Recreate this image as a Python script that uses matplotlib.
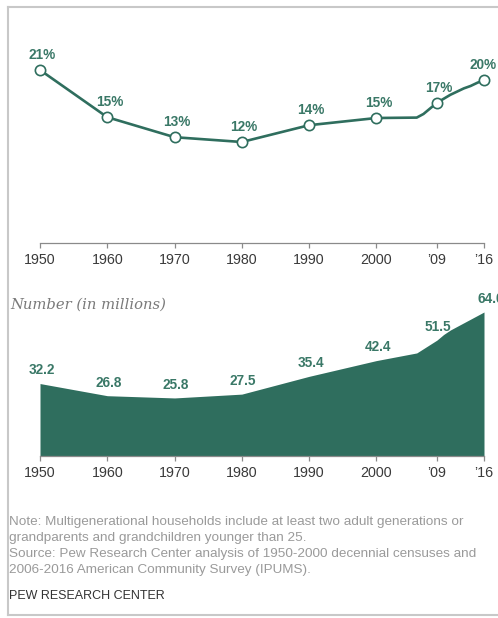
import matplotlib
matplotlib.use("Agg")
import matplotlib.pyplot as plt
from matplotlib.lines import Line2D

# share of population in multigenerational households (%)
years = [1950, 1960, 1970, 1980, 1990, 2000, 2006, 2007, 2008, 2009,
         2010, 2011, 2012, 2013, 2014, 2015, 2016]
pct = [21.0, 15.1, 12.6, 12.0, 14.1, 15.0, 15.05, 15.5, 16.2, 16.9,
       17.4, 17.9, 18.3, 18.7, 19.0, 19.4, 19.75]
# number of people (millions)
num = [32.2, 26.8, 25.8, 27.5, 35.4, 42.4, 45.8, 47.7, 49.6, 51.5,
       54.0, 56.0, 57.6, 59.2, 60.8, 62.4, 64.0]

mark_years = [1950, 1960, 1970, 1980, 1990, 2000, 2009, 2016]
pct_labels = ['21%', '15%', '13%', '12%', '14%', '15%', '17%', '20%']
num_labels = ['32.2', '26.8', '25.8', '27.5', '35.4', '42.4', '51.5', '64.0']
tick_labels = ['1950', '1960', '1970', '1980', '1990', '2000', '\u201909', '\u201916']

note_lines = [
    "Note: Multigenerational households include at least two adult generations or",
    "grandparents and grandchildren younger than 25.",
    "Source: Pew Research Center analysis of 1950-2000 decennial censuses and",
    "2006-2016 American Community Survey (IPUMS).",
]

green = '#2f6e5e'
label_green = '#3a7867'
W, H = 498, 618

plt.rcParams['font.family'] = ['Liberation Sans', 'DejaVu Sans']

fig = plt.figure(figsize=(W / 100, H / 100), dpi=100)


def fx(px):
    return px / W


def fy(py):
    return 1 - py / H


def style_axis(ax):
    for s in ['top', 'right', 'left']:
        ax.spines[s].set_visible(False)
    ax.spines['bottom'].set_color('#8a8a8a')
    ax.spines['bottom'].set_linewidth(0.9)
    ax.set_xlim(1950, 2016)
    ax.set_xticks(mark_years)
    ax.set_xticklabels(tick_labels)
    ax.tick_params(axis='x', direction='out', length=3.6, width=0.9,
                   color='#8a8a8a', pad=3.5, labelsize=10.3, labelcolor='#3a3a3a')
    ax.set_yticks([])
    ax.patch.set_alpha(0)


# top: percent line
ax1 = fig.add_axes([fx(40), fy(243), fx(444), 200 / H])
style_axis(ax1)
ax1.set_ylim(-0.625, 24.375)
ax1.plot(years, pct, color=green, lw=1.9, clip_on=False, zorder=2)
mark_pct = [pct[years.index(y)] for y in mark_years]
ax1.plot(mark_years, mark_pct, 'o', ms=7.4, mfc='white', mec=green, mew=1.2,
         clip_on=False, zorder=3)
for i, (x, v, t) in enumerate(zip(mark_years, mark_pct, pct_labels)):
    dx = -0.5 if i == len(mark_years) - 1 else 1.5
    ax1.annotate(t, (x, v), xytext=(dx, 10.8), textcoords='offset points',
                 ha='center', va='center', fontsize=9.8, fontweight='bold',
                 color=label_green, annotation_clip=False)

# bottom: number area
ax2 = fig.add_axes([fx(40), fy(456), fx(444), 156 / H])
style_axis(ax2)
ax2.set_ylim(0, 69.33)
ax2.fill_between(years, 0, num, color=green, lw=0, zorder=2)
mark_num = [num[years.index(y)] for y in mark_years]
for i, (x, v, t) in enumerate(zip(mark_years, mark_num, num_labels)):
    dx = 4.5 if i == len(mark_years) - 1 else 1.0
    ax2.annotate(t, (x, v), xytext=(dx, 9.5), textcoords='offset points',
                 ha='center', va='center', fontsize=9.8, fontweight='bold',
                 color=label_green, annotation_clip=False)

fig.text(fx(10), fy(305), 'Number (in millions)', ha='left', va='center',
         family='DejaVu Serif', style='italic', fontsize=10.6, color='#7a7a7a')

# notes
for i, line in enumerate(note_lines):
    fig.text(fx(9), fy(522 + i * 16), line, ha='left', va='center',
             fontsize=9.7, color='#9a9a9a')
fig.text(fx(9), fy(596), 'PEW RESEARCH CENTER', ha='left', va='center',
         fontsize=9, color='#333333')

# frame (left, top, bottom)
border = '#c8c8c8'
fig.add_artist(Line2D([fx(8), fx(8)], [fy(7), fy(615)], color=border, lw=1.5))
fig.add_artist(Line2D([fx(8), 1], [fy(7), fy(7)], color=border, lw=1.5))
fig.add_artist(Line2D([fx(8), 1], [fy(615), fy(615)], color=border, lw=1.5))

fig.savefig('out.png', dpi=100)
